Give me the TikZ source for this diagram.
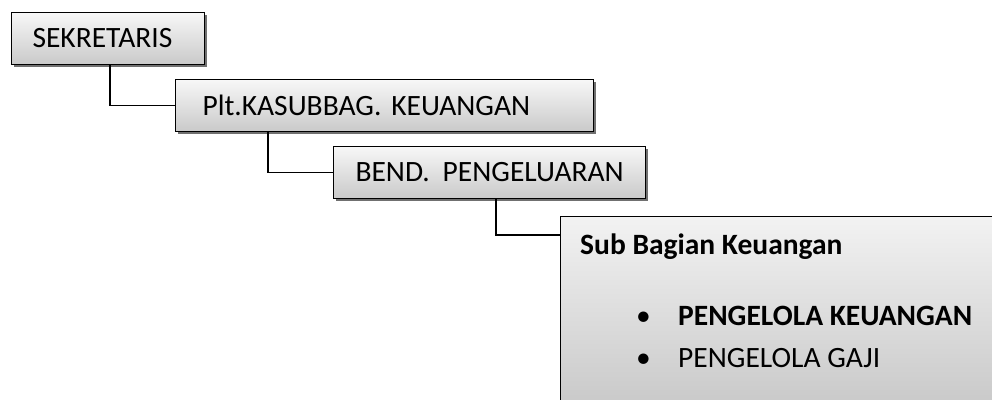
\documentclass[tikz,border=0pt]{standalone}
\usepackage{fontspec}
\setmainfont{Carlito}
\usetikzlibrary{shadows,calc}
\tikzset{
  unitbox/.style={draw=black, line width=1pt, rectangle, anchor=north west,
    top color=gray!6, bottom color=gray!42,
    drop shadow={shadow xshift=2.5pt, shadow yshift=-2.5pt, fill=black!70, opacity=0.8},
    minimum height=52pt, inner xsep=0pt, align=left, font=\fontsize{29.5}{34}\selectfont},
  link/.style={line width=1.2pt},
  itemtext/.style={anchor=base west, inner sep=0pt, font=\fontsize{29.5}{34}\selectfont}
}
\begin{document}
\begin{tikzpicture}[x=1pt,y=-1pt]
    \useasboundingbox (0,0) rectangle (992,399);
    % boxes
    \node[unitbox, text width=193pt] (sek) at (11,12) {\hspace*{21pt}\mbox{SEKRETARIS}};
    \node[unitbox, text width=418pt] (plt) at (175,79) {\hspace*{27pt}\mbox{Plt.KASUBBAG.\ KEUANGAN}};
    \node[unitbox, text width=312pt] (bend) at (333,146) {\hspace*{22pt}\mbox{BEND.\hspace{3pt} PENGELUARAN}};
    \node[unitbox, minimum width=460pt, minimum height=205pt, top color=gray!10, bottom color=gray!45] (sub) at (560,216) {};
    % text of the last box
    \node[itemtext, font=\fontsize{29.5}{34}\selectfont\bfseries] (subhead) at ($(sub.north west)+(20,38)$) {Sub Bagian Keuangan};
    \node[itemtext] (dot1) at ($(sub.north west)+(76,109)$) {\textbullet};
    \node[itemtext, font=\fontsize{29.5}{34}\selectfont\bfseries] (item1) at ($(sub.north west)+(118,109)$) {PENGELOLA KEUANGAN};
    \node[itemtext] (dot2) at ($(sub.north west)+(76,151)$) {\textbullet};
    \node[itemtext] (item2) at ($(sub.north west)+(118,151)$) {PENGELOLA GAJI};
    % links
    \draw[link] ($(sek.south west)+(99,0)$) |- (plt.west);
    \draw[link] ($(plt.south west)+(93,0)$) |- (bend.west);
    \draw[link] ($(bend.south west)+(163,0)$) |- ($(sub.north west)+(0,19)$);
\end{tikzpicture}
\end{document}
